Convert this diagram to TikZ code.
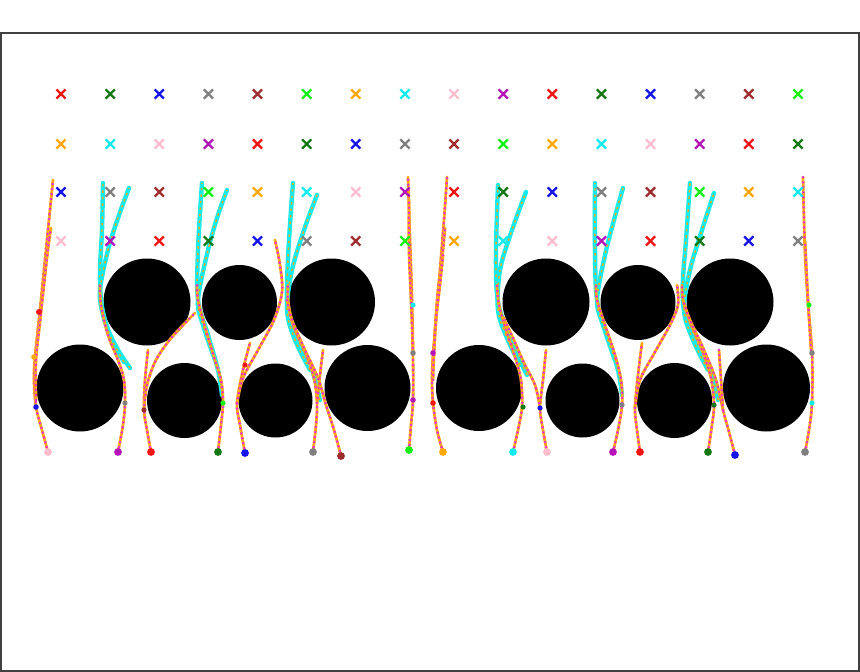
\documentclass[tikz,border=0pt]{standalone}
\definecolor{kr}{RGB}{240,20,20}
\definecolor{kg}{RGB}{20,120,20}
\definecolor{kb}{RGB}{20,20,235}
\definecolor{kgr}{RGB}{128,128,128}
\definecolor{kbr}{RGB}{160,45,45}
\definecolor{kl}{RGB}{20,240,20}
\definecolor{ko}{RGB}{255,168,10}
\definecolor{kc}{RGB}{20,235,240}
\definecolor{kp}{RGB}{255,190,205}
\definecolor{km}{RGB}{180,20,185}
\definecolor{kdot}{RGB}{235,40,225}
\tikzset{
 trbase/.style={draw=ko, line width=2.8pt, line cap=round},
 trdots/.style={draw=kdot, line width=2.8pt, dash pattern=on 0.01pt off 5pt, line cap=round},
 cybase/.style={draw=kc, line width=4.4pt, line cap=round},
 cydash/.style={draw=ko, line width=1.4pt, dash pattern=on 2.5pt off 4pt},
 crossst/.style={line width=2.3pt},
 obst/.style={fill=black},
 frame/.style={draw=black!75, line width=1.2pt}
}
\newcommand\trj[1]{\draw[trbase] plot[smooth,tension=0.55] coordinates {#1};\draw[trdots] plot[smooth,tension=0.55] coordinates {#1};}
\newcommand\cyj[1]{\draw[cybase] plot[smooth,tension=0.55] coordinates {#1};\draw[cydash] plot[smooth,tension=0.55] coordinates {#1};}
\newcommand\xmk[3]{\draw[crossst,draw=#3] (#1-4.6,#2-4.6) -- (#1+4.6,#2+4.6) (#1-4.6,#2+4.6) -- (#1+4.6,#2-4.6);}
\begin{document}
\begin{tikzpicture}[x=1pt,y=-1pt]
\useasboundingbox (0,0) rectangle (860,672);
\fill[white] (0,0) rectangle (860,672);
% obstacles
\fill[obst] (147,302) circle (43.5);
\fill[obst] (239.5,302.5) circle (37.5);
\fill[obst] (331.5,302) circle (43.5);
\fill[obst] (546,302) circle (43.5);
\fill[obst] (638,302.5) circle (37.5);
\fill[obst] (730,302) circle (43.5);
\fill[obst] (80,388) circle (43.5);
\fill[obst] (184.5,400.5) circle (37.5);
\fill[obst] (275.5,400.5) circle (37);
\fill[obst] (367.5,388) circle (43);
\fill[obst] (479,388) circle (43);
\fill[obst] (582.5,400.5) circle (37);
\fill[obst] (674.5,400.5) circle (37.5);
\fill[obst] (766.5,388) circle (43.5);
% ---------- left half trajectories
\trj{(48,452) (42,430) (36,407) (34,380) (35,357) (39,320) (44,270) (49,220) (53,180)}
\trj{(36,407) (35,370) (38,330) (43,290) (47,255) (51,228)}
\trj{(36,400) (36,360) (40,322) (45,275) (49,240)}
% B
\cyj{(130,368) (118,350) (107,327) (101,300) (100,270) (102,230) (103,183)}
\cyj{(124,362) (112,340) (103,315) (100,290) (108,250) (118,218) (129,188)}
\trj{(118,452) (123,425) (125,403) (124,380) (118,360) (108,335) (101,305) (100,285)}
% C
\trj{(151,452) (147,430) (144,410) (145,380) (148,350)}
\trj{(144,410) (147,385) (156,360) (172,337) (195,313)}
% D
\cyj{(222,395) (218,370) (208,335) (198,300) (198,250) (202,183)}
\cyj{(215,360) (203,325) (198,300) (208,250) (218,215) (227,190)}
\trj{(218,452) (221,425) (223,403) (221,380) (214,357) (205,327) (198,300) (197,285)}
% E
\trj{(245,453) (240,425) (237,403) (243,370) (250,343)}
\trj{(237,403) (243,378) (258,350) (274,320) (282,292) (280,265) (275,240)}
% F, G
\cyj{(320,400) (312,370) (298,340) (288,310) (287,285) (289,240) (293,183)}
\cyj{(310,370) (295,340) (287,310) (292,270) (304,230) (317,195)}
\trj{(313,452) (316,425) (317,403) (314,378) (305,352) (293,325) (288,300) (288,285)}
\trj{(317,403) (320,375) (323,350)}
\trj{(341,456) (334,430) (326,405) (318,378) (305,350) (292,320) (287,300)}
% H
\trj{(409,450) (411,425) (413,400) (413,353) (412,300) (410,240) (408,177)}
\trj{(413,353) (411,300) (409,250) (409,200)}
% ---------- right half trajectories
\trj{(443,452) (437,430) (433,403) (432,380) (433,355) (436,320) (440,270) (444,220) (447,177)}
\trj{(433,380) (435,330) (438,290) (442,260) (445,228)}
\trj{(433,370) (436,320) (440,285) (443,255)}
% B'
\cyj{(527,375) (515,350) (503,320) (497,295) (496,250) (498,185)}
\cyj{(520,365) (507,338) (498,310) (500,270) (512,230) (526,192)}
\trj{(513,452) (518,430) (522,407) (521,380) (515,357) (506,330) (499,305) (497,285)}
% C'
\trj{(547,452) (543,430) (540,408) (543,380) (546,350)}
\trj{(540,408) (535,385) (524,363) (513,338) (503,317)}
% D'
\cyj{(622,395) (618,370) (607,335) (597,300) (595,250) (595,183)}
\cyj{(615,360) (603,325) (597,300) (605,255) (614,220) (623,188)}
\trj{(613,452) (618,430) (622,405) (621,380) (615,355) (605,325) (597,300) (596,285)}
% E'
\trj{(640,452) (637,430) (635,408) (638,375) (642,343)}
\trj{(635,408) (640,380) (655,352) (670,325) (678,305) (677,285)}
% F', G'
\cyj{(718,400) (710,370) (696,340) (684,310) (683,280) (686,240) (690,183)}
\cyj{(708,370) (693,340) (684,310) (690,270) (702,230) (714,193)}
\trj{(708,452) (712,425) (714,405) (711,378) (702,350) (690,322) (683,300) (682,285)}
\trj{(735,455) (729,432) (723,410) (716,380) (704,350) (690,320) (683,300)}
\trj{(723,410) (721,380) (719,350)}
% H'
\trj{(805,452) (809,430) (812,403) (812,353) (808,303) (805,253) (803,177)}
\trj{(811,350) (808,300) (806,260) (805,240)}
% intermediate markers
\fill[kb] (36,407) circle (2.8);
\fill[ko] (34,357) circle (2.8);
\fill[kr] (39,312) circle (3);
\fill[kgr] (125,403) circle (2.6);
\fill[kbr] (144,410) circle (2.6);
\fill[kl] (223,403) circle (2.6);
\fill[kr] (245,365) circle (2.6);
\fill[km] (413,400) circle (2.8);
\fill[kgr] (413,353) circle (2.8);
\fill[kc] (413,305) circle (2.6);
\fill[kr] (433,403) circle (2.8);
\fill[km] (433,353) circle (2.8);
\fill[kg] (523,407) circle (2.6);
\fill[kb] (540,408) circle (2.6);
\fill[kgr] (622,405) circle (2.6);
\fill[kg] (714,405) circle (2.6);
\fill[kgr] (812,353) circle (2.8);
\fill[kc] (812,403) circle (2.6);
\fill[kl] (809,305) circle (2.6);
% goal crosses
\foreach [count=\i from 0] \c in {kr,kg,kb,kgr,kbr,kl,ko,kc,kp,km,kr,kg,kb,kgr,kbr,kl}
  {\xmk{61+49.13*\i}{94}{\c}}
\foreach [count=\i from 0] \c in {ko,kc,kp,km,kr,kg,kb,kgr,kbr,kl,ko,kc,kp,km,kr,kg}
  {\xmk{61+49.13*\i}{144}{\c}}
\foreach [count=\i from 0] \c in {kb,kgr,kbr,kl,ko,kc,kp,km,kr,kg,kb,kgr,kbr,kl,ko,kc}
  {\xmk{61+49.13*\i}{192}{\c}}
\foreach [count=\i from 0] \c in {kp,km,kr,kg,kb,kgr,kbr,kl,ko,kc,kp,km,kr,kg,kb,kgr}
  {\xmk{61+49.13*\i}{241}{\c}}
% start positions
\foreach \x/\y/\c in {48/452/kp,118/452/km,151/452/kr,218/452/kg,245/453/kb,313/452/kgr,341/456/kbr,409/450/kl,
  443/452/ko,513/452/kc,547/452/kp,613/452/km,640/452/kr,708/452/kg,735/455/kb,805/452/kgr}
  {\fill[\c] (\x,\y) circle (3.9);}
% frame and ticks
\draw[frame] (1,33) rectangle (859,671);
\foreach \y in {93,217,340,462,584} {\draw[black!75, line width=1pt] (-3,\y) -- (1,\y);}
\foreach \x in {62,184,308,431,551,674,798} {\draw[black!75, line width=1pt] (\x,671) -- (\x,675);}
\end{tikzpicture}
\end{document}
